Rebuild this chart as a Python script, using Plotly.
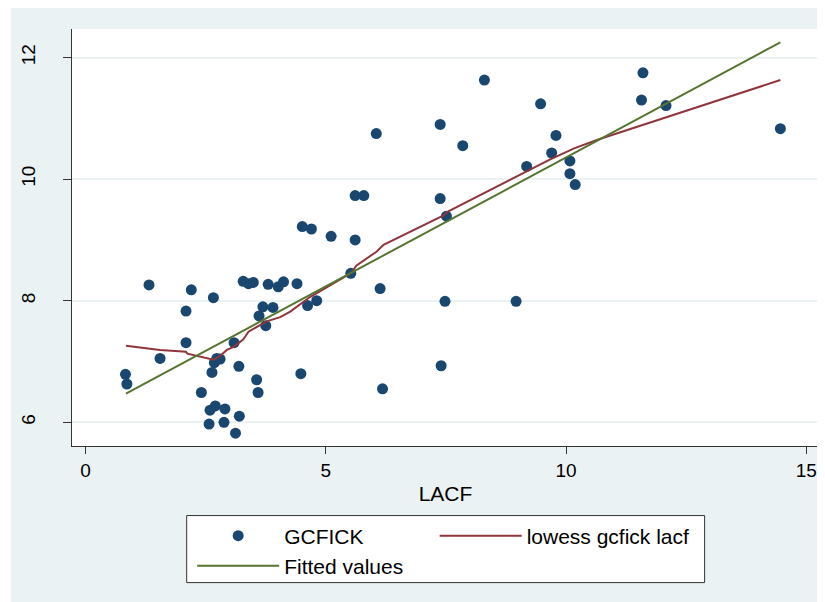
import plotly.graph_objects as go

# ---- data ----
lacf = [1.32, 2.20, 2.66, 2.09, 2.09, 1.55, 2.73, 2.80, 2.68, 3.09, 3.19, 2.63, 0.83, 0.86,
        2.41, 3.56, 3.59, 2.70, 2.59, 2.90, 3.20, 2.57, 2.88, 3.12, 4.48, 3.28, 3.39, 3.49,
        3.80, 4.01, 4.12, 4.40, 3.69, 3.90, 3.61, 3.75, 8.30, 9.47, 7.38, 7.85, 6.05, 9.70,
        9.18, 5.61, 5.79, 7.38, 7.51, 4.51, 4.70, 5.11, 5.61, 5.52, 6.13, 4.62, 4.81, 7.48,
        8.96, 7.40, 6.18, 11.60, 11.57, 12.08, 9.79, 14.46, 10.08, 10.08, 10.19]
gcfick = [8.26, 8.18, 8.05, 7.83, 7.31, 7.05, 7.05, 7.04, 6.98, 7.31, 6.92, 6.82, 6.79, 6.63,
          6.49, 6.70, 6.49, 6.27, 6.20, 6.22, 6.10, 5.97, 6.00, 5.82, 6.80, 8.32, 8.28, 8.30,
          8.27, 8.23, 8.31, 8.28, 7.90, 7.89, 7.75, 7.59, 11.63, 11.24, 10.90, 10.55, 10.75, 10.43,
          10.21, 9.73, 9.73, 9.68, 9.39, 9.22, 9.18, 9.06, 9.00, 8.45, 8.20, 7.92, 8.00, 7.99,
          7.99, 6.93, 6.55, 11.75, 11.30, 11.21, 10.72, 10.83, 10.30, 10.09, 9.91]

lowess_x = [0.84, 1.55, 2.09, 2.12, 2.66, 2.80, 2.94, 3.08, 3.28, 3.39, 3.63, 3.77, 4.05, 4.26,
            4.67, 5.52, 5.64, 6.06, 6.20, 7.44, 7.55, 9.66, 10.18, 10.70, 14.46]
lowess_y = [7.26, 7.19, 7.16, 7.13, 7.03, 7.09, 7.19, 7.24, 7.36, 7.49, 7.60, 7.66, 7.73, 7.82,
            8.06, 8.45, 8.58, 8.81, 8.92, 9.40, 9.47, 10.32, 10.51, 10.66, 11.63]

fit_x = [0.84, 14.46]
fit_y = [6.47, 12.25]

x_ticks = [0, 5, 10, 15]
y_ticks = [6, 8, 10, 12]

# ---- styling ----
OFF = 8                      # page body margin of the html page
W, H = 825 - OFF, 602 - OFF  # figure fills the visible window
# plot-area edges in screen pixels
SL, SR, ST, SB = 71.7, 819.5, 29.3, 446.0
ML, MR, MT, MB = SL - OFF, W - (SR - OFF), ST - OFF, H - (SB - OFF)
PW, PH = W - ML - MR, H - MT - MB
BG = "#eaf2f3"
FONT = "Liberation Sans, Arial, sans-serif"
ITEMW = 82


def px_x(p):
    """screen x pixel -> paper x"""
    return (p - OFF - ML) / PW


def px_y(p):
    """screen y pixel -> paper y"""
    return (H - MB - (p - OFF)) / PH


fig = go.Figure()
fig.add_trace(go.Scatter(x=lacf, y=gcfick, mode="markers", name="GCFICK", legend="legend",
                         legendwidth=242.5 - (ITEMW + 15),
                         marker=dict(color="#1a476f", size=11, line=dict(width=0))))
fig.add_trace(go.Scatter(x=lowess_x, y=lowess_y, mode="lines", name="lowess gcfick lacf",
                         legend="legend", legendwidth=200,
                         line=dict(color="#90353b", width=2)))
fig.add_trace(go.Scatter(x=fit_x, y=fit_y, mode="lines", name="Fitted values",
                         legend="legend2", legendwidth=200,
                         line=dict(color="#55752f", width=2)))

leg_common = dict(orientation="h", xanchor="left", yanchor="top",
                  bgcolor="rgba(0,0,0,0)", borderwidth=0,
                  font=dict(family=FONT, size=21, color="black"),
                  itemwidth=ITEMW, traceorder="normal")

fig.update_layout(
    width=W, height=H,
    margin=dict(l=ML, r=MR, t=MT, b=MB, pad=0, autoexpand=False),
    paper_bgcolor="white", plot_bgcolor="white",
    font=dict(family=FONT, color="black", size=19),
    showlegend=True,
    legend=dict(x=px_x(192), y=px_y(515.5), **leg_common),
    legend2=dict(x=px_x(192), y=px_y(545.5), **leg_common),
    shapes=[
        dict(type="rect", xref="paper", yref="paper", layer="below",
             x0=px_x(10.7), x1=px_x(820), y0=px_y(610), y1=px_y(7.3),
             fillcolor=BG, line=dict(width=0)),
        dict(type="rect", xref="paper", yref="paper", layer="below",
             x0=0, x1=1, y0=0, y1=1, fillcolor="white", line=dict(width=0)),
        dict(type="rect", xref="paper", yref="paper", layer="below",
             x0=px_x(186.5), x1=px_x(705), y0=px_y(582.5), y1=px_y(515.5),
             fillcolor="white", line=dict(color="#333333", width=1)),
    ],
)

fig.update_xaxes(range=[(SL - 85.3) / 48.1, (SR - 85.3) / 48.1],
                 tickvals=x_ticks, ticktext=[str(v) for v in x_ticks],
                 ticks="outside", ticklen=7, tickcolor="#333333", tickwidth=1,
                 showline=True, linecolor="#333333", linewidth=1,
                 showgrid=False, zeroline=False, automargin=False,
                 tickfont=dict(size=19),
                 title=dict(text="LACF", font=dict(size=21), standoff=6))
fig.update_yaxes(range=[5.61, 12.47], tickvals=y_ticks, ticktext=[str(v) for v in y_ticks],
                 ticks="outside", ticklen=8, tickcolor="#333333", tickwidth=1,
                 tickangle=-90, ticklabelstandoff=20,
                 showline=True, linecolor="#333333", linewidth=1,
                 showgrid=True, gridcolor=BG, gridwidth=1.5, zeroline=False, automargin=False,
                 tickfont=dict(size=19))

fig.write_html("out.html")
